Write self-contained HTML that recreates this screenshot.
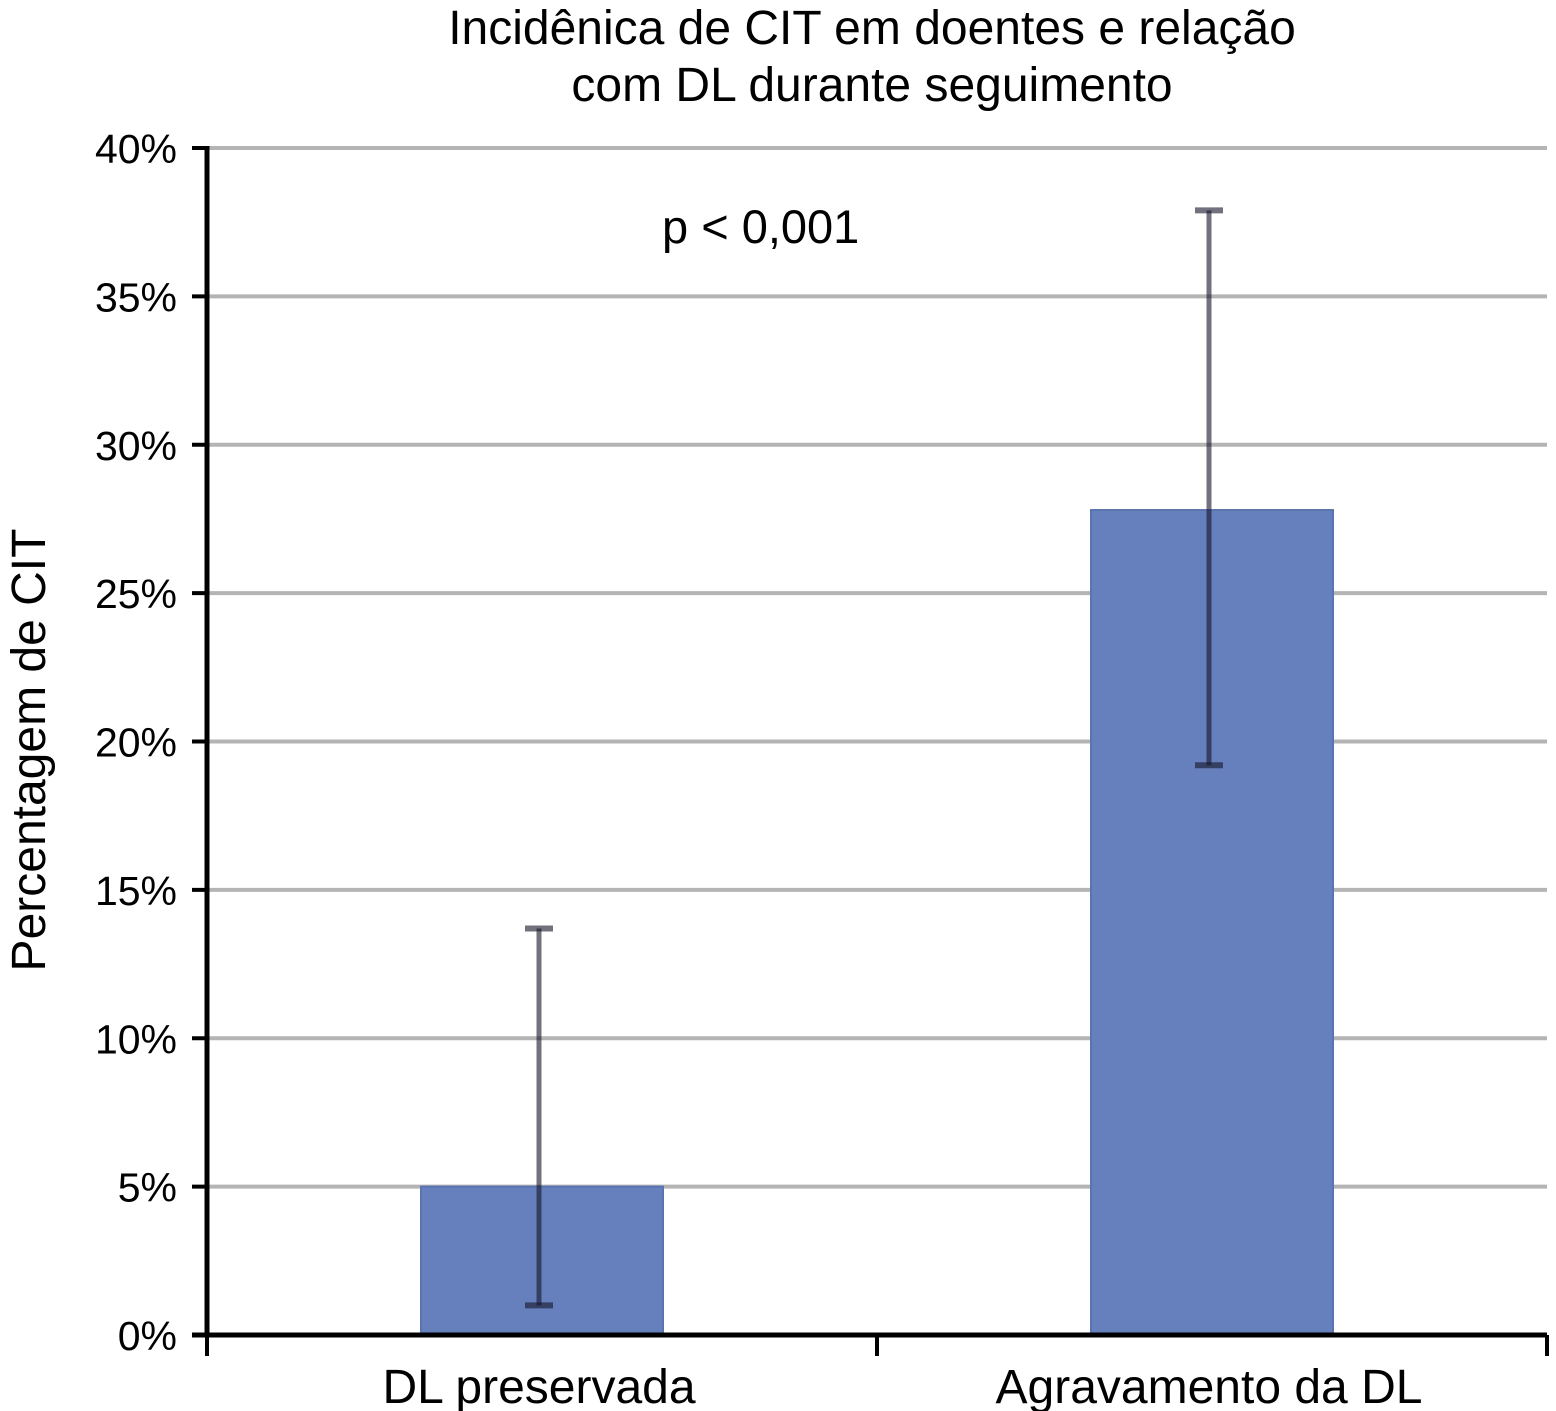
<!DOCTYPE html>
<html><head><meta charset="utf-8"><style>
body{margin:0;background:#fff;}
svg{display:block;font-family:"Liberation Sans",Arial,sans-serif;}
</style></head><body>
<svg id="chart" width="1556" height="1411" viewBox="0 0 1556 1411">
<g>
<text x="872" y="44" font-size="48" text-anchor="middle">Incidênica de CIT em doentes e relação</text>
<text x="872" y="101" font-size="48" text-anchor="middle">com DL durante seguimento</text>
</g>
<text transform="translate(45,750) rotate(-90)" font-size="48" text-anchor="middle">Percentagem de CIT</text>
<text x="662" y="243" font-size="47">p &lt; 0,001</text>
<g id="grid"></g><g id="bars"></g><g id="errs"></g><g id="axes"></g>
</svg>
<script>
const categories=["DL preservada","Agravamento da DL"];
const values=[5.0,27.8];
const errLow=[1.0,19.2];
const errHigh=[13.7,37.9];
const yTicks=[0,5,10,15,20,25,30,35,40];
const yTickLabels=["0%","5%","10%","15%","20%","25%","30%","35%","40%"];
const NS="http://www.w3.org/2000/svg";
const x0=207,x1=1547,y0=1335,yTop=148;
const y=v=>y0-(v/40)*(y0-yTop);
const bandW=(x1-x0)/categories.length;
const cx=i=>x0+bandW*(i+0.5);
function mk(tag,attrs,parent){const e=document.createElementNS(NS,tag);for(const k in attrs)e.setAttribute(k,attrs[k]);document.getElementById(parent).appendChild(e);return e;}
yTicks.forEach((t,i)=>{
 if(t>0){const g=mk('line',{x1:x0,x2:x1,y1:y(t),y2:y(t),stroke:'#b4b4b4','stroke-width':4},'grid');
 
 }
 const tk=mk('line',{x1:x0-15,x2:x0,y1:y(t),y2:y(t),stroke:'#000','stroke-width':4},'axes');
 
 
 const lb=mk('text',{x:177,y:y(t)+15,'font-size':41,'text-anchor':'end'},'axes');
 lb.textContent=yTickLabels[i];
 
 
});
categories.forEach((c,i)=>{
 const bw=242;
 const b=mk('rect',{x:cx(i)-bw/2,y:y(values[i]),width:bw,height:y0-y(values[i]),fill:'#6680bd',stroke:'#5a74b0','stroke-width':2},'bars');
 
 
 const ex=cx(i)-3;
 const e=mk('line',{x1:ex,x2:ex,y1:y(errHigh[i]),y2:y(errLow[i]),stroke:'rgba(20,20,40,0.6)','stroke-width':5},'errs');
 
 
 [errHigh[i],errLow[i]].forEach(v=>{const cp=mk('line',{x1:ex-14,x2:ex+14,y1:y(v),y2:y(v),stroke:'rgba(20,20,40,0.6)','stroke-width':6},'errs');
 
 });
 const l=mk('text',{x:cx(i)-3,y:1403,'font-size':48,'text-anchor':'middle'},'axes');
 l.textContent=c;
 
 
});
[0,1,2].forEach(k=>{const t=mk('line',{x1:x0+bandW*k,x2:x0+bandW*k,y1:y0,y2:1356,stroke:'#000','stroke-width':4},'axes');
 
 });
const ya=mk('line',{x1:x0,x2:x0,y1:yTop-2,y2:y0+2,stroke:'#000','stroke-width':5},'axes');


const xa=mk('line',{x1:x0-15,x2:x1,y1:y0,y2:y0,stroke:'#000','stroke-width':5},'axes');


</script>
</body></html>
